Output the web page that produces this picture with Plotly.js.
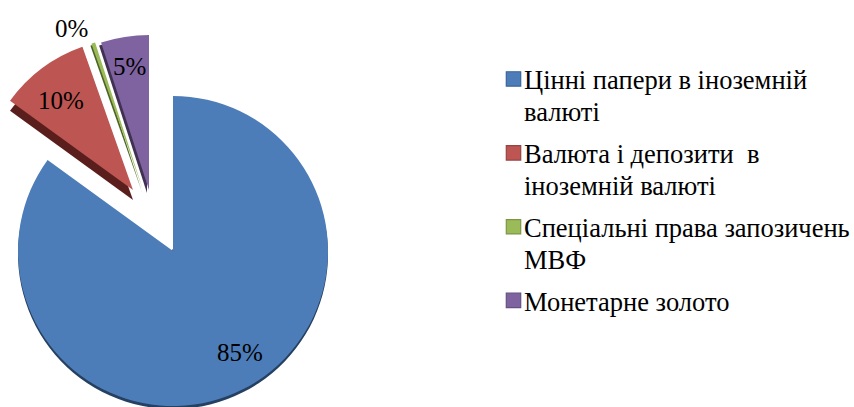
<!DOCTYPE html>
<html><head><meta charset="utf-8">
<script src="https://cdn.plot.ly/plotly-3.0.1.min.js"></script>
<style>html,body{margin:0;padding:0;background:#fff;overflow:hidden;width:854px;height:407px}
#c{position:absolute;left:-200px;top:-200px}</style></head><body><div id="c"></div>
<script>
const categories=["Цінні папери в іноземній<br>валюті","Валюта і депозити\u00a0 в<br>іноземній валюті","Спеціальні права запозичень<br>МВФ","Монетарне золото"];
const values=[85,9.6,0.4,5];
const percentLabels=["85%","10%","0%","5%"];
const faceColors=["#4d7db8","#bd5552","#9bbb59","#7f63a1"];
const depthColors=["#254061","#5a1f1d","#4f6228","#403152"];
const borderColors=["#3a6496","#974441","#7c9645","#65507f"];
const centers=[[173,251,155],[133,190,152],[143,190,155],[149,190,155]];
const depths=[[0,3],[0,10],[-1,2],[-2,3]];
const labelPos=[[240,352],[61,100],[71,28],[129,66]];
const FONT='Liberation Serif';
const OFF=200,W=854+2*OFF,H=407+2*OFF;
const dom=(cx,cy,r)=>({x:[(cx+OFF-r)/W,(cx+OFF+r)/W],y:[1-(cy+OFF+r)/H,1-(cy+OFF-r)/H]});
const base={type:'pie',sort:false,direction:'clockwise',rotation:0,textinfo:'none',hoverinfo:'skip'};
const traces=[];
// legend keys, tucked behind the large slice
categories.forEach((c,i)=>traces.push({...base,labels:[c],values:[values[i]],domain:dom(173,251,1),
  marker:{colors:[faceColors[i]],line:{color:borderColors[i],width:1}},legendgroup:'g'+i,showlegend:true}));
const slice=(i,colors,cx,cy,r)=>({...base,labels:categories,values:values,domain:dom(cx,cy,r),showlegend:false,
  marker:{colors:values.map((_,j)=>j===i?colors[i]:'rgba(0,0,0,0)'),line:{width:0}}});
[0,1,2,3].forEach(i=>{
  const [cx,cy,r]=centers[i],[dx,dy]=depths[i];
  traces.push(slice(i,depthColors,cx+dx,cy+dy,r));
  traces.push(slice(i,faceColors,cx,cy,r));
});
const annotations=percentLabels.map((t,i)=>({text:t,showarrow:false,xref:'paper',yref:'paper',
  x:(labelPos[i][0]+OFF)/W,y:1-(labelPos[i][1]+OFF)/H,xanchor:'center',yanchor:'middle',
  font:{family:FONT,size:25,color:'#000'}}));
const layout={width:W,height:H,margin:{l:0,r:0,t:0,b:0},paper_bgcolor:'#fff',annotations,font:{family:FONT},
  legend:{x:(484+OFF)/W,y:1-(55+OFF)/H,xanchor:'left',yanchor:'top',traceorder:'grouped',tracegroupgap:2,
    bgcolor:'rgba(0,0,0,0)',font:{family:FONT,size:26.5,color:'#000'}}};
Plotly.newPlot('c',traces,layout,{displayModeBar:false,staticPlot:true}).then(()=>{
  const shiftY=[-17,-17,-17,0];
  document.querySelectorAll('#c .legend .legendpie').forEach((p,i)=>p.setAttribute('transform','translate(29.5,'+shiftY[i]+') scale(1.2)'));
  document.querySelectorAll('#c .legend .legendtext').forEach(t=>{
    t.querySelectorAll('tspan.line').forEach((s,i)=>{ if(i>0){ s.setAttribute('dy','32px'); } });
  });
});
</script></body></html>
